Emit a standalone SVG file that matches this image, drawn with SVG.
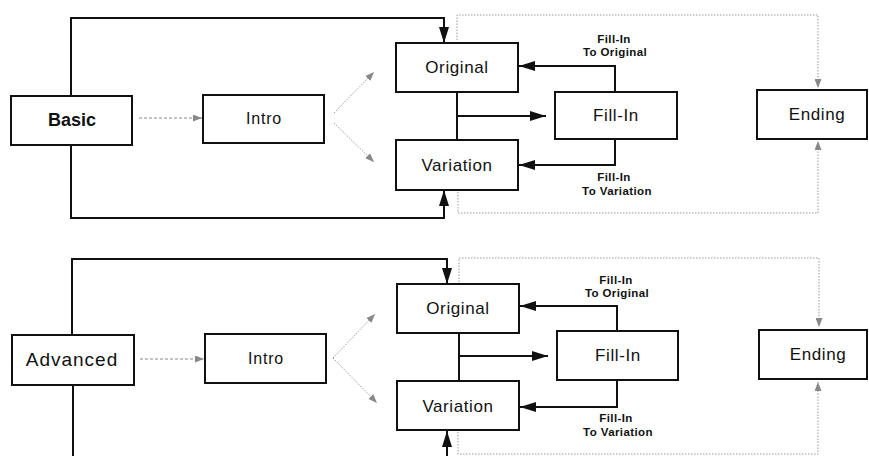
<svg xmlns="http://www.w3.org/2000/svg" width="869" height="456" viewBox="0 0 869 456">
<style>
.box{fill:#fff;stroke:#111;stroke-width:2}
.lbl{font-family:"Liberation Sans",Arial,sans-serif;font-size:17px;fill:#111;text-anchor:middle;letter-spacing:0.6px}
.big{font-family:"Liberation Sans",Arial,sans-serif;font-size:18px;fill:#111;text-anchor:middle}
.small{font-family:"Liberation Sans",Arial,sans-serif;font-size:11.5px;font-weight:bold;fill:#111;text-anchor:middle;letter-spacing:0.4px}
.solid{fill:none;stroke:#111;stroke-width:2}
.dot{fill:none;stroke:#999;stroke-width:1;stroke-dasharray:1.5 1.5}
.dash{fill:none;stroke:#888;stroke-width:1;stroke-dasharray:3 2}
</style>
<defs>
<marker id="ah" viewBox="0 0 16 10" refX="16" refY="5" markerWidth="16" markerHeight="10" orient="auto" markerUnits="userSpaceOnUse"><path d="M0,0 L16,5 L0,10 Z" fill="#111"/></marker>
<marker id="gh" viewBox="0 0 9 7" refX="9" refY="3.5" markerWidth="9" markerHeight="7" orient="auto" markerUnits="userSpaceOnUse"><path d="M0,0 L9,3.5 L0,7 Z" fill="#888"/></marker>
</defs>

<g id="connectors">
<!-- top section -->
<path class="solid" d="M71,96 V18 H444 V43" marker-end="url(#ah)"/>
<path class="solid" d="M71,145 V218 H444 V190" marker-end="url(#ah)"/>
<path class="dash" d="M139,118 H202" marker-end="url(#gh)"/>
<path class="dot" d="M334,113 L374,72" marker-end="url(#gh)"/>
<path class="dot" d="M334,123 L374,162" marker-end="url(#gh)"/>
<path class="solid" d="M457,92 V140"/>
<path class="solid" d="M457,116 H546" marker-end="url(#ah)"/>
<path class="solid" d="M615,92 V66 H519" marker-end="url(#ah)"/>
<path class="solid" d="M615,139 V165 H519" marker-end="url(#ah)"/>
<path class="dot" d="M457,40 V15 H818 V88" marker-end="url(#gh)"/>
<path class="dot" d="M458,192 V213 H818 V141" marker-end="url(#gh)"/>
<!-- bottom section -->
<path class="solid" d="M72,335 V259 H447 V284" marker-end="url(#ah)"/>
<path class="solid" d="M73,385 V456"/>
<path class="solid" d="M447,456 V431" marker-end="url(#ah)"/>
<path class="dash" d="M140,359 H204" marker-end="url(#gh)"/>
<path class="dot" d="M333,358 L375,314" marker-end="url(#gh)"/>
<path class="dot" d="M333,358 L377,403" marker-end="url(#gh)"/>
<path class="solid" d="M459,333 V381"/>
<path class="solid" d="M459,356 H548" marker-end="url(#ah)"/>
<path class="solid" d="M617,331 V306 H520" marker-end="url(#ah)"/>
<path class="solid" d="M617,380 V407 H520" marker-end="url(#ah)"/>
<path class="dot" d="M459,282 V258 H819 V327" marker-end="url(#gh)"/>
<path class="dot" d="M458,432 V454 H818 V382" marker-end="url(#gh)"/>
</g>

<g id="labels">
<text class="small" x="614" y="43">Fill-In</text>
<text class="small" x="615" y="56">To Original</text>
<text class="small" x="614" y="181">Fill-In</text>
<text class="small" x="617" y="195">To Variation</text>
<text class="small" x="616" y="284">Fill-In</text>
<text class="small" x="617" y="297">To Original</text>
<text class="small" x="616" y="422">Fill-In</text>
<text class="small" x="618" y="436">To Variation</text>
</g>

<!-- top section nodes -->
<g id="basic"><rect class="box" x="11" y="96" width="121" height="49"/><text class="big" x="72" y="126" font-weight="bold">Basic</text></g>
<g id="intro1"><rect class="box" x="203" y="95" width="121" height="48"/><text class="lbl" x="264" y="124" style="font-size:16px;letter-spacing:0.8px">Intro</text></g>
<g id="original1"><rect class="box" x="396" y="43" width="122" height="49"/><text class="lbl" x="457" y="73">Original</text></g>
<g id="variation1"><rect class="box" x="396" y="140" width="122" height="50"/><text class="lbl" x="457" y="171">Variation</text></g>
<g id="fillin1"><rect class="box" x="555" y="92" width="122" height="47"/><text class="lbl" x="616" y="121">Fill-In</text></g>
<g id="ending1"><rect class="box" x="757" y="90" width="110" height="49"/><text class="lbl" x="817" y="120">Ending</text></g>

<!-- bottom section nodes -->
<g id="advanced"><rect class="box" x="12" y="335" width="122" height="50"/><text class="big" x="72" y="366" style="font-size:19px;letter-spacing:1px">Advanced</text></g>
<g id="intro2"><rect class="box" x="205" y="334" width="121" height="49"/><text class="lbl" x="266" y="364" style="font-size:16px;letter-spacing:0.8px">Intro</text></g>
<g id="original2"><rect class="box" x="397" y="284" width="122" height="49"/><text class="lbl" x="458" y="314">Original</text></g>
<g id="variation2"><rect class="box" x="397" y="381" width="122" height="49"/><text class="lbl" x="458" y="412">Variation</text></g>
<g id="fillin2"><rect class="box" x="557" y="331" width="121" height="49"/><text class="lbl" x="618" y="361">Fill-In</text></g>
<g id="ending2"><rect class="box" x="759" y="330" width="108" height="49"/><text class="lbl" x="818" y="360">Ending</text></g>
</svg>
